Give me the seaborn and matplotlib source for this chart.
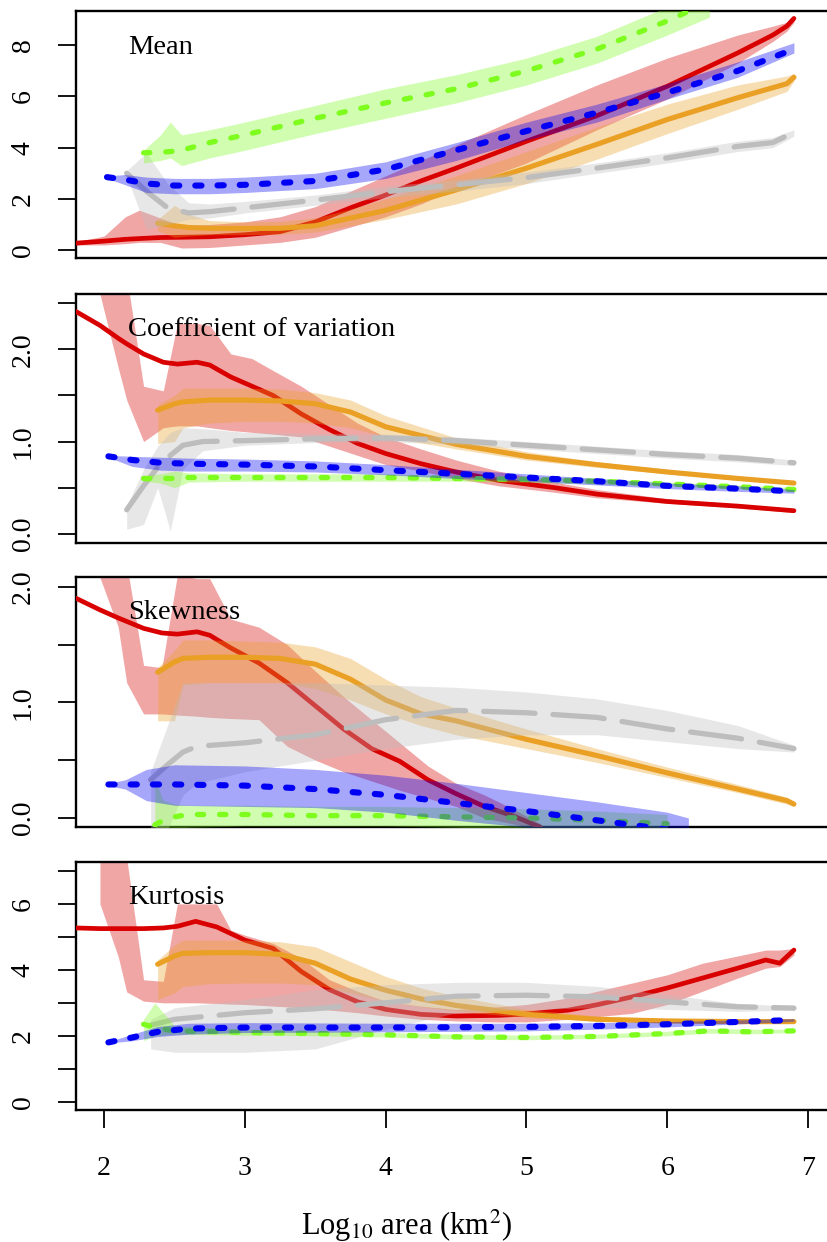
"""Moments of the distribution against log10 catchment area, four stacked panels."""

import matplotlib
matplotlib.use("Agg")
import matplotlib.pyplot as plt
import numpy as np
import seaborn as sns

nan = np.nan

# ---------------- Mean ----------------
mean_red_x = [1.8, 2.0, 2.15, 2.25, 2.4, 2.55, 2.75, 3.0, 3.25, 3.5, 3.75, 4.0, 4.25, 4.5, 5.0, 5.5, 6.0, 6.5, 6.75, 6.85, 6.9]
mean_red = [0.27, 0.35, 0.42, 0.45, 0.49, 0.5, 0.52, 0.6, 0.72, 1.1, 1.65, 2.15, 2.7, 3.2, 4.25, 5.25, 6.4, 7.7, 8.4, 8.75, 9.05]
mean_red_lo = [0.2, 0.2, 0.25, 0.3, 0.3, 0.08, 0.1, 0.2, 0.3, 0.5, 0.9, 1.3, 1.8, 2.4, 3.4, 4.7, 5.9, 7.3, 8.15, 8.55, 8.9]
mean_red_hi = [0.32, 0.55, 1.3, 1.56, 1.25, 0.95, 1.0, 1.1, 1.3, 1.7, 2.3, 2.9, 3.5, 4.1, 5.3, 6.45, 7.5, 8.4, 8.75, 8.9, 9.0]

mean_orange_x = [2.38, 2.5, 2.6, 2.75, 3.0, 3.25, 3.5, 3.75, 4.0, 4.25, 4.5, 5.0, 5.5, 6.0, 6.5, 6.85, 6.9]
mean_orange = [1.05, 0.95, 0.88, 0.85, 0.84, 0.85, 0.95, 1.25, 1.55, 1.95, 2.35, 3.2, 4.13, 5.1, 5.95, 6.5, 6.75]
mean_orange_lo = [0.75, 0.5, 0.55, 0.6, 0.6, 0.62, 0.7, 0.95, 1.2, 1.5, 1.8, 2.6, 3.55, 4.55, 5.5, 6.2, 6.6]
mean_orange_hi = [1.2, 1.75, 1.4, 1.15, 1.1, 1.12, 1.25, 1.6, 2.0, 2.45, 2.9, 3.85, 4.8, 5.7, 6.45, 6.8, 6.9]

mean_grey_x = [2.16, 2.3, 2.45, 2.6, 2.75, 3.0, 3.5, 4.0, 4.5, 5.0, 5.5, 6.0, 6.5, 6.75, 6.9]
mean_grey = [3.0, 2.3, 1.65, 1.45, 1.5, 1.65, 1.95, 2.28, 2.55, 2.83, 3.2, 3.6, 4.05, 4.2, 4.6]
mean_grey_lo = [2.9, 0.8, 1.0, 1.2, 1.25, 1.45, 1.75, 2.05, 2.3, 2.6, 3.0, 3.4, 3.85, 4.0, 4.45]
mean_grey_hi = [3.1, 3.8, 2.6, 1.85, 1.8, 1.9, 2.15, 2.5, 2.75, 3.05, 3.4, 3.8, 4.25, 4.4, 4.7]

mean_green_x = [2.28, 2.4, 2.47, 2.55, 2.75, 3.0, 3.5, 4.0, 4.5, 5.0, 5.5, 6.0, 6.3]
mean_green = [3.8, 3.82, 3.85, 3.9, 4.2, 4.5, 5.15, 5.75, 6.3, 7.0, 7.85, 8.95, 9.7]
mean_green_lo = [3.4, 3.5, 3.6, 3.3, 3.6, 3.9, 4.55, 5.15, 5.75, 6.45, 7.3, 8.4, 9.1]
mean_green_hi = [3.9, 4.5, 5.0, 4.5, 4.7, 5.0, 5.65, 6.3, 6.85, 7.5, 8.35, 9.5, 10.0]

mean_blue_x = [2.02, 2.15, 2.3, 2.5, 2.75, 3.0, 3.5, 4.0, 4.5, 5.0, 5.5, 6.0, 6.5, 6.9]
mean_blue = [2.85, 2.75, 2.6, 2.52, 2.52, 2.55, 2.7, 3.15, 3.9, 4.65, 5.37, 6.15, 7.0, 7.85]
mean_blue_lo = [2.8, 2.55, 2.25, 2.2, 2.2, 2.25, 2.4, 2.8, 3.5, 4.3, 5.0, 5.9, 6.75, 7.7]
mean_blue_hi = [2.9, 2.95, 2.85, 2.8, 2.8, 2.85, 3.0, 3.45, 4.2, 5.0, 5.7, 6.5, 7.35, 8.1]

# ---------------- Coefficient of variation ----------------
cv_red_x = [1.8, 1.97, 2.1, 2.16, 2.28, 2.42, 2.52, 2.66, 2.75, 2.9, 3.05, 3.2, 3.4, 3.6, 3.8, 4.0, 4.25, 4.5, 4.8, 5.2, 5.5, 6.0, 6.5, 6.9]
cv_red = [2.41, 2.26, 2.12, 2.06, 1.95, 1.86, 1.84, 1.86, 1.83, 1.7, 1.6, 1.5, 1.3, 1.13, 0.98, 0.87, 0.76, 0.67, 0.58, 0.5, 0.43, 0.35, 0.3, 0.25]
cv_red_lo = [nan, 2.6, 1.8, 1.45, 1.0, 1.15, 1.17, 1.17, 1.15, 1.12, 1.1, 1.08, 1.05, 0.95, 0.85, 0.75, 0.68, 0.6, 0.52, 0.45, 0.39, 0.33, 0.28, 0.23]
cv_red_hi = [nan, 2.8, 2.8, 2.8, 1.6, 1.55, 2.28, 2.28, 2.26, 1.95, 1.9, 1.77, 1.6, 1.4, 1.2, 1.05, 0.92, 0.8, 0.68, 0.56, 0.48, 0.38, 0.32, 0.27]

cv_orange_x = [2.38, 2.5, 2.56, 2.75, 3.0, 3.25, 3.5, 3.75, 4.0, 4.5, 5.0, 5.5, 6.0, 6.5, 6.9]
cv_orange = [1.34, 1.41, 1.43, 1.45, 1.45, 1.44, 1.41, 1.32, 1.16, 0.97, 0.84, 0.75, 0.67, 0.6, 0.55]
cv_orange_lo = [0.98, 1.0, 1.15, 1.2, 1.22, 1.22, 1.2, 1.15, 1.05, 0.92, 0.8, 0.72, 0.65, 0.58, 0.53]
cv_orange_hi = [1.4, 1.5, 1.58, 1.58, 1.58, 1.57, 1.53, 1.45, 1.28, 1.04, 0.89, 0.78, 0.7, 0.62, 0.57]

cv_grey_x = [2.16, 2.28, 2.38, 2.47, 2.56, 2.7, 3.0, 3.5, 4.0, 4.5, 5.0, 5.5, 6.0, 6.5, 6.9]
cv_grey = [0.26, 0.52, 0.72, 0.85, 0.96, 1.0, 1.01, 1.03, 1.04, 1.01, 0.96, 0.91, 0.86, 0.82, 0.77]
cv_grey_lo = [0.05, 0.1, 0.5, 0.03, 0.7, 0.9, 0.96, 0.99, 1.0, 0.97, 0.92, 0.87, 0.82, 0.78, 0.74]
cv_grey_hi = [0.3, 0.7, 0.95, 1.1, 1.15, 1.14, 1.1, 1.09, 1.08, 1.05, 1.0, 0.95, 0.9, 0.86, 0.8]

cv_green_x = [2.28, 2.4, 2.5, 2.6, 3.0, 3.5, 4.0, 4.5, 5.0, 5.5, 6.0, 6.5, 6.9]
cv_green = [0.6, 0.6, 0.6, 0.61, 0.61, 0.61, 0.61, 0.6, 0.59, 0.57, 0.54, 0.51, 0.48]
cv_green_lo = [0.57, 0.55, 0.5, 0.56, 0.57, 0.57, 0.57, 0.57, 0.56, 0.54, 0.52, 0.49, 0.47]
cv_green_hi = [0.63, 0.65, 0.68, 0.66, 0.65, 0.65, 0.65, 0.63, 0.62, 0.6, 0.56, 0.53, 0.5]

cv_blue_x = [2.03, 2.2, 2.4, 2.6, 3.0, 3.5, 4.0, 4.5, 5.0, 5.5, 6.0, 6.5, 6.9]
cv_blue = [0.84, 0.8, 0.77, 0.76, 0.75, 0.73, 0.69, 0.65, 0.61, 0.57, 0.52, 0.49, 0.46]
cv_blue_lo = [0.83, 0.73, 0.69, 0.68, 0.68, 0.67, 0.64, 0.6, 0.57, 0.53, 0.49, 0.46, 0.44]
cv_blue_hi = [0.85, 0.84, 0.83, 0.82, 0.81, 0.79, 0.75, 0.7, 0.65, 0.6, 0.55, 0.52, 0.48]

# ---------------- Skewness ----------------
sk_red_x = [1.8, 1.97, 2.1, 2.16, 2.28, 2.41, 2.52, 2.66, 2.75, 2.9, 3.1, 3.3, 3.5, 3.7, 3.9, 4.1, 4.3, 4.5, 4.7, 4.9, 5.1]
sk_red = [1.9, 1.8, 1.73, 1.7, 1.64, 1.6, 1.59, 1.61, 1.58, 1.47, 1.34, 1.17, 0.97, 0.77, 0.6, 0.49, 0.33, 0.21, 0.1, 0.02, -0.08]
sk_red_lo = [nan, 2.08, 1.65, 1.17, 0.9, 0.9, 0.89, 0.88, 0.87, 0.86, 0.85, 0.62, 0.5, 0.4, 0.32, 0.24, 0.17, 0.1, 0.0, -0.05, -0.1]
sk_red_hi = [nan, 2.2, 2.2, 2.2, 1.32, 1.3, 2.1, 2.07, 2.07, 1.72, 1.65, 1.5, 1.27, 1.05, 0.85, 0.65, 0.45, 0.3, 0.2, 0.08, -0.05]

sk_orange_x = [2.38, 2.5, 2.56, 2.75, 3.0, 3.25, 3.5, 3.75, 4.0, 4.25, 4.5, 5.0, 5.5, 6.0, 6.5, 6.85, 6.9]
sk_orange = [1.26, 1.35, 1.38, 1.39, 1.39, 1.38, 1.33, 1.2, 1.02, 0.9, 0.84, 0.68, 0.54, 0.39, 0.25, 0.15, 0.12]
sk_orange_lo = [0.84, 0.84, 1.15, 1.17, 1.17, 1.17, 1.12, 1.02, 0.9, 0.8, 0.72, 0.6, 0.48, 0.35, 0.22, 0.12, 0.1]
sk_orange_hi = [1.3, 1.45, 1.54, 1.54, 1.53, 1.52, 1.48, 1.38, 1.2, 1.05, 0.95, 0.77, 0.6, 0.44, 0.29, 0.18, 0.14]

sk_grey_x = [2.33, 2.45, 2.56, 2.66, 3.0, 3.5, 4.0, 4.5, 5.0, 5.5, 6.0, 6.5, 6.9]
sk_grey = [0.33, 0.46, 0.57, 0.62, 0.65, 0.72, 0.85, 0.93, 0.91, 0.87, 0.77, 0.69, 0.6]
sk_grey_lo = [-0.1, -0.1, 0.2, 0.3, 0.4, 0.5, 0.6, 0.68, 0.72, 0.72, 0.66, 0.6, 0.57]
sk_grey_hi = [0.4, 0.8, 1.17, 1.17, 1.17, 1.17, 1.15, 1.13, 1.09, 1.03, 0.93, 0.8, 0.63]

sk_green_x = [2.36, 2.42, 2.5, 2.6, 3.0, 3.5, 4.0, 4.5, 5.0, 5.5, 6.0]
sk_green = [-0.06, -0.02, 0.01, 0.03, 0.03, 0.02, 0.02, 0.01, 0.0, -0.02, -0.05]
sk_green_lo = [-0.1, -0.1, -0.1, -0.08, -0.07, -0.07, -0.07, -0.08, -0.1, -0.12, -0.15]
sk_green_hi = [0.33, 0.15, 0.12, 0.11, 0.11, 0.1, 0.1, 0.09, 0.08, 0.06, 0.03]

sk_blue_x = [2.03, 2.15, 2.3, 2.5, 3.0, 3.5, 4.0, 4.5, 5.0, 5.5, 6.0, 6.15]
sk_blue = [0.29, 0.29, 0.29, 0.29, 0.28, 0.25, 0.2, 0.13, 0.06, -0.02, -0.1, -0.12]
sk_blue_lo = [0.28, 0.25, 0.15, 0.11, 0.1, 0.09, 0.05, -0.02, -0.08, -0.15, -0.2, -0.2]
sk_blue_hi = [0.3, 0.33, 0.42, 0.46, 0.45, 0.42, 0.37, 0.3, 0.22, 0.14, 0.05, 0.0]

# ---------------- Kurtosis ----------------
ku_red_x = [1.8, 1.97, 2.1, 2.16, 2.28, 2.42, 2.52, 2.65, 2.8, 2.9, 3.0, 3.2, 3.4, 3.6, 3.8, 4.0, 4.25, 4.5, 4.8, 5.0, 5.3, 5.5, 5.75, 6.0, 6.25, 6.5, 6.7, 6.8, 6.9]
ku_red = [5.27, 5.25, 5.25, 5.25, 5.25, 5.27, 5.32, 5.47, 5.3, 5.1, 4.9, 4.65, 3.95, 3.4, 3.03, 2.8, 2.65, 2.6, 2.62, 2.66, 2.78, 2.94, 3.18, 3.45, 3.75, 4.05, 4.3, 4.2, 4.6]
ku_red_lo = [nan, 6.0, 4.4, 3.33, 3.05, 3.0, 3.0, 3.0, 2.98, 2.96, 2.95, 2.9, 2.85, 2.78, 2.7, 2.6, 2.5, 2.45, 2.42, 2.42, 2.5, 2.58, 2.68, 2.95, 3.35, 3.75, 4.05, 4.1, 4.45]
ku_red_hi = [nan, 7.4, 7.4, 7.4, 3.7, 3.65, 6.0, 6.0, 6.0, 5.2, 5.05, 4.8, 4.35, 3.7, 3.35, 3.05, 2.9, 2.8, 2.88, 2.95, 3.15, 3.35, 3.6, 3.85, 4.2, 4.42, 4.6, 4.6, 4.65]

ku_orange_x = [2.38, 2.5, 2.56, 2.75, 3.0, 3.25, 3.5, 3.75, 4.0, 4.25, 4.5, 5.0, 5.5, 6.0, 6.5, 6.9]
ku_orange = [4.17, 4.42, 4.5, 4.52, 4.52, 4.47, 4.2, 3.72, 3.38, 3.12, 2.92, 2.65, 2.5, 2.45, 2.43, 2.43]
ku_orange_lo = [3.1, 3.3, 3.5, 3.58, 3.6, 3.6, 3.55, 3.3, 3.05, 2.88, 2.75, 2.55, 2.45, 2.41, 2.4, 2.4]
ku_orange_hi = [4.3, 4.75, 4.9, 4.9, 4.9, 4.85, 4.7, 4.25, 3.8, 3.45, 3.2, 2.8, 2.6, 2.52, 2.48, 2.47]

ku_grey_x = [2.33, 2.5, 3.0, 3.5, 4.0, 4.5, 5.0, 5.5, 6.0, 6.5, 6.9]
ku_grey = [2.32, 2.5, 2.7, 2.82, 3.0, 3.2, 3.23, 3.18, 3.03, 2.88, 2.84]
ku_grey_lo = [1.6, 1.5, 1.5, 1.6, 2.2, 2.7, 2.8, 2.85, 2.8, 2.74, 2.78]
ku_grey_hi = [2.5, 2.85, 3.1, 3.4, 3.55, 3.62, 3.62, 3.5, 3.25, 2.98, 2.9]

ku_green_x = [2.28, 2.36, 2.5, 3.0, 3.5, 4.0, 4.5, 5.0, 5.5, 6.0, 6.3, 6.6, 6.9]
ku_green = [2.35, 2.25, 2.15, 2.1, 2.07, 2.03, 1.97, 1.95, 1.98, 2.07, 2.15, 2.12, 2.15]
ku_green_lo = [1.85, 2.0, 2.05, 2.02, 2.0, 1.96, 1.9, 1.88, 1.92, 2.0, 2.08, 2.06, 2.1]
ku_green_hi = [2.5, 3.0, 2.3, 2.2, 2.15, 2.1, 2.05, 2.02, 2.05, 2.14, 2.22, 2.2, 2.2]

ku_blue_x = [2.03, 2.2, 2.38, 2.6, 3.0, 4.0, 5.0, 5.5, 6.0, 6.5, 6.9]
ku_blue = [1.8, 1.95, 2.12, 2.22, 2.25, 2.25, 2.27, 2.3, 2.35, 2.42, 2.48]
ku_blue_lo = [1.78, 1.85, 1.98, 2.05, 2.1, 2.12, 2.15, 2.2, 2.27, 2.36, 2.44]
ku_blue_hi = [1.82, 2.05, 2.28, 2.38, 2.4, 2.38, 2.38, 2.4, 2.43, 2.48, 2.52]

panel_titles = ["Mean", "Coefficient of variation", "Skewness", "Kurtosis"]
panel_ylims = [(-0.31, 9.34), (-0.1, 2.6), (-0.078, 2.084), (-0.25, 7.27)]
panel_yticks = [[0, 2, 4, 6, 8], [0, 0.5, 1, 1.5, 2, 2.5], [0, 0.5, 1, 1.5, 2], [0, 1, 2, 3, 4, 5, 6, 7]]
panel_yticklabels = [
    ["0", "2", "4", "6", "8"],
    ["0.0", "", "1.0", "", "2.0", ""],
    ["0.0", "", "1.0", "", "2.0"],
    ["0", "", "2", "", "4", "", "6", ""],
]
x_ticks = [2, 3, 4, 5, 6, 7]

# colour, line width (pt), dash pattern (None = solid)
STYLES = {
    "red": ("#d90000", 3.4, None),
    "orange": ("#e9a024", 3.7, None),
    "grey": ("#bdbdbd", 3.8, (37, 13)),
    "green": ("#7dfc1e", 3.8, (4.5, 11.5)),
    "blue": ("#0000f5", 4.4, (4.5, 11.5)),
}
ORDER = ["red", "orange", "grey", "green", "blue"]

sns.set_theme(style="ticks")
plt.rcParams.update({
    "font.family": ["Liberation Serif", "DejaVu Serif"],
    "mathtext.fontset": "stix",
    "lines.scale_dashes": False,
    "axes.edgecolor": "black",
    "text.color": "black",
    "axes.labelcolor": "black",
    "xtick.color": "black",
    "ytick.color": "black",
})

W, H = 828, 1242
fig = plt.figure(figsize=(W / 100, H / 100), dpi=100)

# panel frames in pixels (top, bottom)
frames = [(11, 258), (294, 543), (577, 827), (862, 1110)]
left_px = 76

panels = [
    {k: (globals()[f"mean_{k}_x"], globals()[f"mean_{k}"], globals()[f"mean_{k}_lo"], globals()[f"mean_{k}_hi"]) for k in ORDER},
    {k: (globals()[f"cv_{k}_x"], globals()[f"cv_{k}"], globals()[f"cv_{k}_lo"], globals()[f"cv_{k}_hi"]) for k in ORDER},
    {k: (globals()[f"sk_{k}_x"], globals()[f"sk_{k}"], globals()[f"sk_{k}_lo"], globals()[f"sk_{k}_hi"]) for k in ORDER},
    {k: (globals()[f"ku_{k}_x"], globals()[f"ku_{k}"], globals()[f"ku_{k}_lo"], globals()[f"ku_{k}_hi"]) for k in ORDER},
]

for i, (top, bot) in enumerate(frames):
    ax = fig.add_axes([left_px / W, 1 - bot / H, 1 - left_px / W, (bot - top) / H])
    z = 2
    for key in ORDER:
        x, y, lo, hi = panels[i][key]
        color, lw, dash = STYLES[key]
        ax.fill_between(x, np.array(lo, float), np.array(hi, float),
                        color=color, alpha=0.35, linewidth=0, zorder=z)
        sns.lineplot(x=x, y=y, ax=ax, color=color, linewidth=lw,
                     sort=False, estimator=None)
        line = ax.lines[-1]
        line.set_zorder(z + 1)
        line.set_solid_capstyle("round")
        line.set_dash_capstyle("round")
        if dash is not None:
            line.set_dashes(dash)
        z += 2

    ax.set_xlim(1.8, 2 + (W - 104) / 140.8)
    ax.set_ylim(*panel_ylims[i])
    ax.set_yticks(panel_yticks[i])
    ax.set_yticklabels(panel_yticklabels[i])
    ax.tick_params(axis="y", direction="out", length=13, width=1.3,
                   labelsize=20, pad=16, labelrotation=90)
    for lab in ax.get_yticklabels():
        lab.set_verticalalignment("center")
    for side in ("left", "top", "bottom"):
        ax.spines[side].set_linewidth(1.7)
    ax.spines["right"].set_visible(False)

    if i < 3:
        ax.set_xticks([])
    else:
        ax.set_xticks(x_ticks)
        ax.set_xticklabels([str(t) for t in x_ticks])
        ax.tick_params(axis="x", direction="out", length=13, width=1.3,
                       labelsize=20, pad=20)
    ax.set_xlabel("")
    ax.set_ylabel("")

    ax.annotate(panel_titles[i], xy=(0, 1), xycoords="axes fraction",
                xytext=(52, -36), textcoords="offset pixels",
                ha="left", va="center", fontsize=20.5, zorder=20)

fig.text(406 / W, 1 - 1226 / H, r"Log$_{10}$ area (km$^2$)",
         ha="center", va="center", fontsize=22)

fig.savefig("out.png", dpi=100)
